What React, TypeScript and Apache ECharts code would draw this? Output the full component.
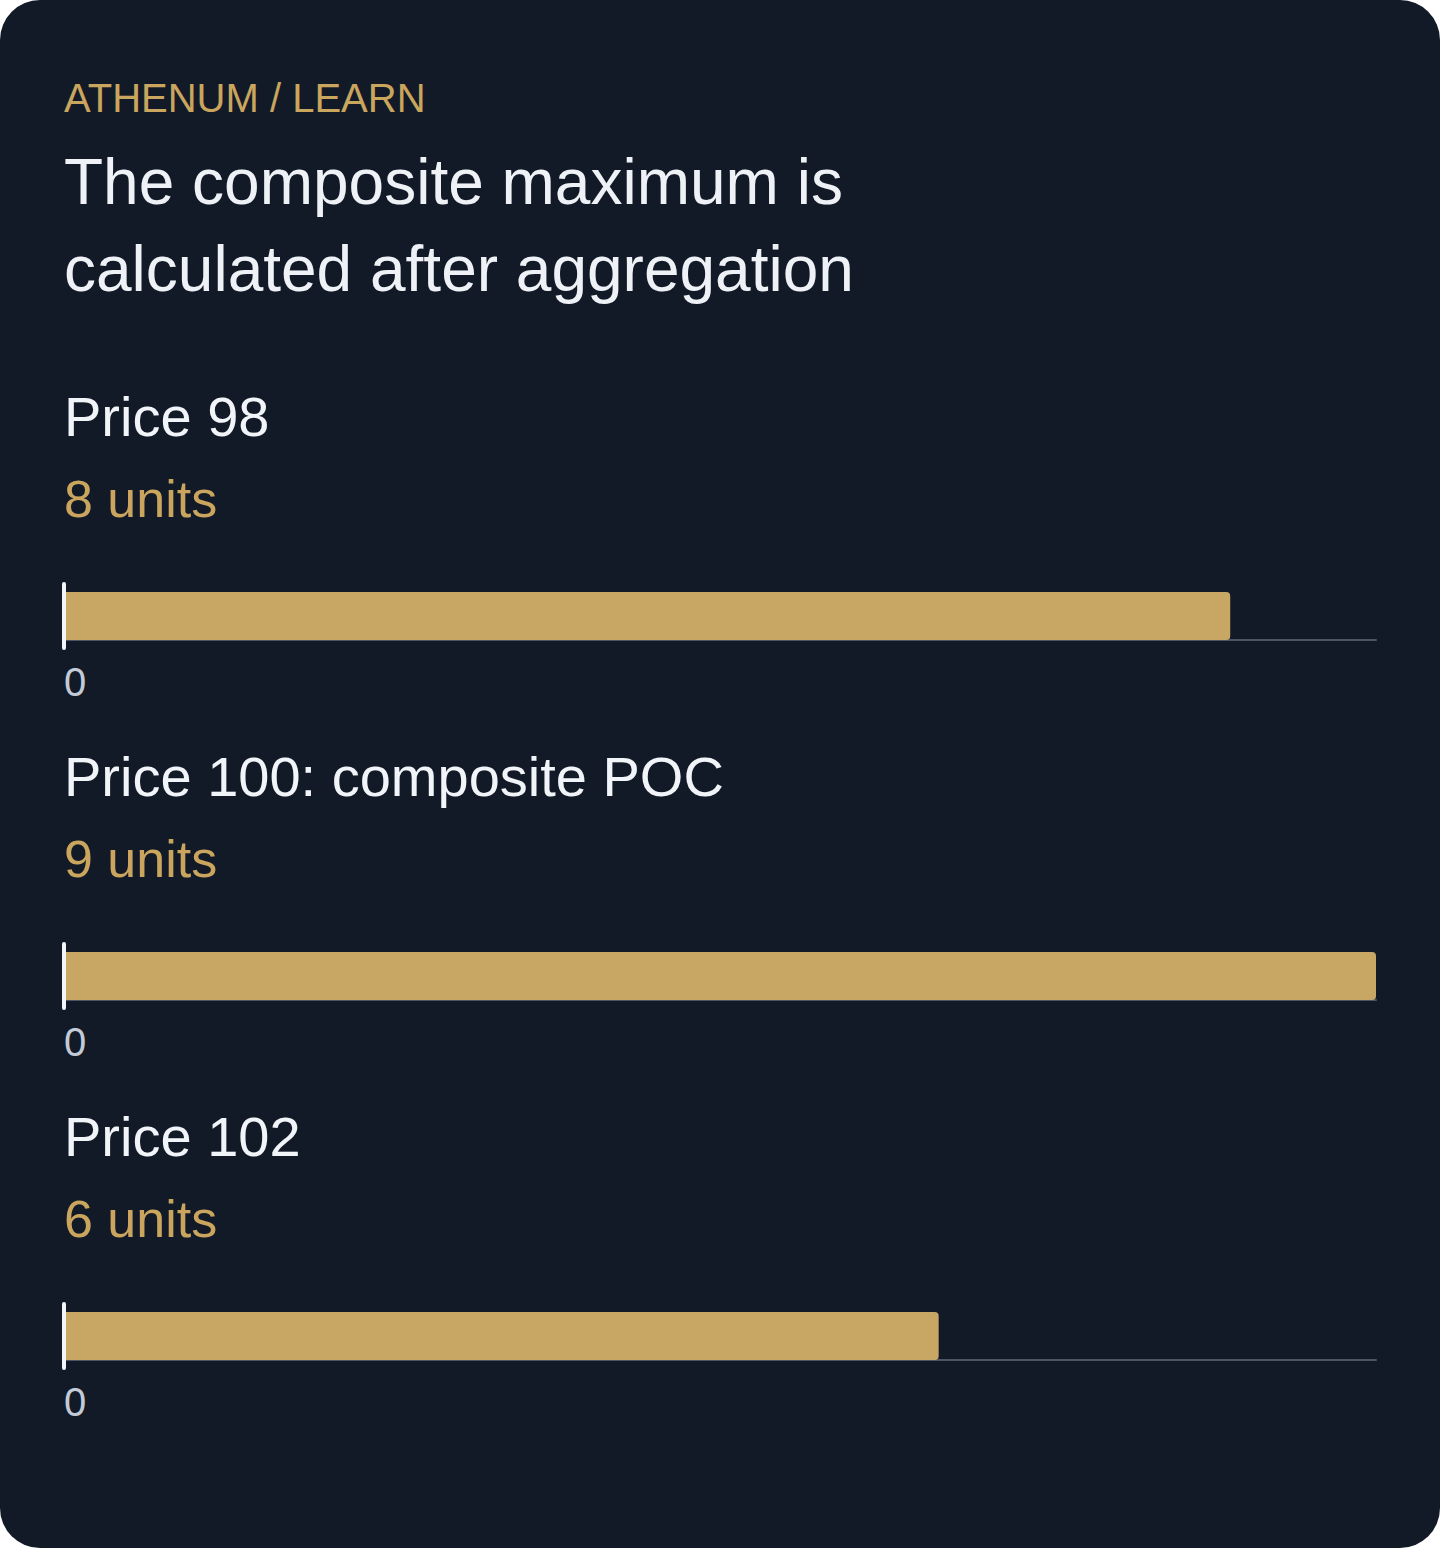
import * as echarts from 'echarts';
import { useEffect, useRef } from 'react';

const eyebrow = 'ATHENUM / LEARN';
const headline = ['The composite maximum is', 'calculated after aggregation'];

const priceLabels = ['Price 98', 'Price 100: composite POC', 'Price 102'];
const unitValues = [8, 9, 6];
const tickLabels = ['0'];

const FONT = '"Liberation Sans", Arial, Helvetica, sans-serif';
const GOLD = '#c9a55e';
const BAR = '#c8a764';

export default function App() {
    const chartRef = useRef<HTMLDivElement>(null);

    useEffect(() => {
        document.body.style.margin = '0';
        if (!chartRef.current) return;

        const chart = echarts.init(chartRef.current, null, { renderer: 'svg' });
        const maxUnits = Math.max(...unitValues);
        const step = 360;

        const titles: any[] = [
            {
                text: eyebrow,
                left: 64,
                top: 78,
                padding: 0,
                textStyle: { color: GOLD, fontSize: 40, fontWeight: 'normal', fontFamily: FONT, lineHeight: 40 },
            },
            {
                text: headline.join('\n'),
                left: 64,
                top: 138,
                padding: 0,
                textStyle: { color: '#eef2f7', fontSize: 64, fontWeight: 'normal', fontFamily: FONT, lineHeight: 87 },
            },
        ];

        priceLabels.forEach((label, i) => {
            titles.push({
                text: label,
                left: 64,
                top: 388 + i * step,
                padding: 0,
                textStyle: { color: '#f1f5f9', fontSize: 56, fontWeight: 'normal', fontFamily: FONT, lineHeight: 56 },
            });
            titles.push({
                text: `${unitValues[i]} units`,
                left: 64,
                top: 473 + i * step,
                padding: 0,
                textStyle: { color: GOLD, fontSize: 52, fontWeight: 'normal', fontFamily: FONT, lineHeight: 52 },
            });
        });

        const option: echarts.EChartsOption = {
            animation: false,
            backgroundColor: 'transparent',
            title: titles,
            grid: priceLabels.map((_, i) => ({
                left: 64,
                right: 64,
                top: 584 + i * step,
                height: 64,
            })),
            xAxis: priceLabels.map((_, i) => ({
                type: 'value',
                gridIndex: i,
                min: 0,
                max: maxUnits,
                interval: maxUnits,
                offset: -8,
                axisLine: { show: true, lineStyle: { color: '#4b5563', width: 2 } },
                axisTick: { show: false },
                splitLine: { show: false },
                axisLabel: {
                    color: '#c3cbd6',
                    fontSize: 40,
                    fontFamily: FONT,
                    align: 'left',
                    margin: 22,
                    formatter: (v: number) => (v === 0 ? tickLabels[0] : ''),
                },
            })),
            yAxis: priceLabels.map((label, i) => ({
                type: 'category',
                gridIndex: i,
                data: [label],
                z: 10,
                axisLine: { show: true, lineStyle: { color: '#f1f5f9', width: 4 } },
                axisTick: { show: false },
                axisLabel: { show: false },
                splitLine: { show: false },
            })),
            series: priceLabels.map((label, i) => ({
                type: 'bar',
                name: label,
                xAxisIndex: i,
                yAxisIndex: i,
                barWidth: 48,
                itemStyle: { color: BAR, borderRadius: [0, 4, 4, 0] },
                data: [unitValues[i]],
            })),
        };

        chart.setOption(option);

        const handleResize = () => chart.resize();
        window.addEventListener('resize', handleResize);

        return () => {
            chart.dispose();
            window.removeEventListener('resize', handleResize);
        };
    }, []);

    return (
        <div
            style={{
                width: '1440px',
                height: '1548px',
                background: '#131a27',
                borderRadius: '40px',
                overflow: 'hidden',
            }}
        >
            <div ref={chartRef} style={{ width: '1440px', height: '1548px' }} />
        </div>
    );
}
